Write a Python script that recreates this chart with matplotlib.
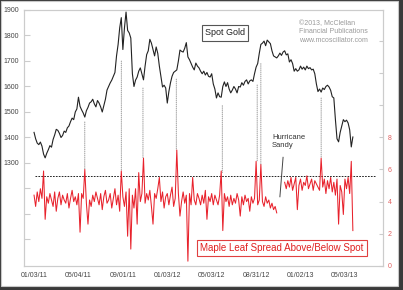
import numpy as np
import matplotlib.pyplot as plt
from matplotlib.patches import Rectangle, ConnectionPatch

plt.rcParams['font.family'] = ['Liberation Sans', 'DejaVu Sans']

# x axis is trading days counted from 01/03/11
tick_days = [0, 84, 168, 252, 336, 420, 504, 588]
tick_labels = ['01/03/11', '05/04/11', '09/01/11', '01/03/12',
               '05/03/12', '08/31/12', '01/02/13', '05/03/13']

# spot gold, one value every 3 trading days
gold_step = 3
gold_price = [
    1420, 1395, 1378, 1372, 1382, 1366, 1335, 1320, 1338, 1352,
    1368, 1362, 1392, 1410, 1432, 1428, 1416, 1400, 1408, 1425,
    1420, 1438, 1445, 1462, 1476, 1470, 1500, 1512, 1558, 1522,
    1508, 1496, 1480, 1505, 1518, 1535, 1540, 1550, 1532, 1520,
    1545, 1535, 1520, 1500, 1525, 1550, 1586, 1600, 1614, 1625,
    1640, 1655, 1720, 1765, 1830, 1870, 1745, 1830, 1892, 1820,
    1810, 1790, 1650, 1600, 1625, 1637, 1660, 1673, 1650, 1626,
    1680, 1725, 1740, 1785, 1770, 1745, 1720, 1755, 1730, 1680,
    1640, 1598, 1605, 1594, 1535, 1580, 1614, 1640, 1655, 1660,
    1665, 1700, 1743, 1738, 1735, 1750, 1772, 1716, 1705, 1690,
    1676, 1665, 1692, 1680, 1673, 1660, 1650, 1660, 1645, 1655,
    1640, 1637, 1650, 1610, 1590, 1555, 1575, 1560, 1558, 1600,
    1618, 1600, 1615, 1590, 1575, 1586, 1600, 1590, 1575, 1600,
    1598, 1615, 1605, 1620, 1626, 1610, 1622, 1626, 1620, 1650,
    1676, 1690, 1730, 1765, 1770, 1778, 1760, 1782, 1775, 1768,
    1740, 1720, 1716, 1712, 1720, 1731, 1722, 1735, 1740, 1724,
    1728, 1696, 1705, 1690, 1660, 1670, 1660, 1665, 1680, 1668,
    1676, 1665, 1680, 1670, 1674, 1665, 1668, 1650, 1610, 1580,
    1590, 1578, 1594, 1588, 1600, 1605, 1598, 1585, 1560, 1555,
    1470, 1395, 1383, 1420, 1445, 1470, 1462, 1468, 1457, 1430, 1363, 1402,
]

# maple leaf spread above/below spot, every 3 trading days (nan = hurricane gap)
spread_step = 3
spread = [
    4.4, 3.7, 4.6, 4.0, 4.8, 4.2, 5.9, 2.9, 4.3, 3.9,
    4.5, 4.1, 3.7, 4.6, 3.4, 4.2, 4.6, 3.8, 4.4, 4.1,
    3.9, 4.5, 3.6, 4.2, 4.7, 4.0, 4.3, 3.8, 4.5, 2.1,
    4.5, 4.2, 6.0, 3.9, 2.6, 4.1, 3.7, 4.4, 4.0, 4.6,
    4.2, 3.8, 4.5, 3.5, 4.3, 4.7, 3.9, 4.1, 4.5, 3.6,
    4.2, 4.8, 3.8, 4.4, 3.4, 5.9, 4.3, 3.7, 4.6, 1.85,
    4.8, 1.05, 4.4, 3.6, 4.8, 2.6, 5.8, 4.0, 4.5, 6.7,
    3.9, 4.5, 4.1, 4.7, 3.7, 2.6, 4.5, 4.2, 4.8, 5.5,
    4.0, 4.6, 3.6, 4.3, 4.5, 3.8, 4.4, 4.9, 3.7, 4.2,
    7.2, 4.5, 3.1, 4.0, 4.6, 3.9, 4.4, 0.3, 4.5, 3.8,
    5.5, 4.1, 3.8, 4.5, 4.2, 3.8, 4.4, 3.9, 4.7, 2.9,
    4.3, 4.0, 4.5, 3.8, 4.4, 4.1, 3.8, 4.4, 5.9, 2.2,
    4.5, 4.0, 4.3, 3.7, 4.4, 3.8, 4.2, 3.9, 4.5, 4.1,
    3.1, 4.3, 3.8, 4.4, 4.0, 4.2, 3.4, 4.3, 3.9, 4.2,
    6.5, 3.8, 4.1, 6.3, 4.0, 3.7, 4.3, 3.9, 4.1, 3.6,
    3.9, 3.5, 3.7, 3.3, np.nan, np.nan, np.nan, np.nan,
    5.2, 4.8, 5.3, 4.9, 5.5, 4.7, 5.1, 5.5, 3.5, 5.0,
    5.4, 4.7, 5.2, 5.0, 5.6, 4.8, 5.1, 5.4, 4.7, 5.3,
    5.1, 4.9, 4.7, 6.7, 4.9, 5.4, 4.5, 5.3, 4.8, 5.5,
    4.6, 5.2, 4.4, 5.4, 2.6, 5.0, 4.6, 3.2, 5.4, 4.8,
    5.5, 4.5, 6.5, 2.2,
]

# dotted links from gold lows down to spread spikes
link_days = [96, 165, 206, 269, 356, 422, 429, 543]
link_gold = [1461, 1700, 1594, 1629, 1525, 1606, 1690, 1555]
link_spread = [6.0, 5.9, 6.7, 7.2, 5.8, 6.5, 6.3, 6.7]
threshold = 5.6

gold_days = np.arange(len(gold_price)) * gold_step
spread_days = np.arange(len(spread)) * spread_step

fig = plt.figure(figsize=(4.03, 2.90), dpi=100)
fig.patch.set_facecolor('#3a3a3a')
fig.patches.append(Rectangle((1/403, 1 - 286/290), 397/403, 285/290,
                             transform=fig.transFigure, facecolor='white',
                             edgecolor='#c8c8c8', lw=0.8, zorder=-5))

ax = fig.add_axes([24/403, 1 - 266/290, 359/403, 256/290])
ax2 = ax.twinx()

ax.plot(gold_days, gold_price, color='#222222', lw=0.8, zorder=3)
ax2.plot(spread_days, spread, color='#e8222c', lw=0.75, zorder=3)
ax2.hlines(threshold, 2, 645, colors='black', linestyles=(0, (2, 1.5)), lw=0.6)

for d, g, s in zip(link_days, link_gold, link_spread):
    con = ConnectionPatch(xyA=(d, g), coordsA=ax.transData,
                          xyB=(d, s), coordsB=ax2.transData,
                          color='#8a8a8a', lw=0.6, linestyle=(0, (1, 1.5)))
    ax2.add_artist(con)

ax.set_xlim(-19, 660)
ax.set_ylim(896, 1900)
ax2.set_ylim(0, 15.9)

ax.set_xticks(tick_days)
ax.set_xticklabels(tick_labels)
ax.set_yticks(range(1000, 2000, 100))
ax.set_yticklabels([str(v) if v >= 1300 else '' for v in range(1000, 2000, 100)])
ax2.set_yticks(range(0, 16, 2))
ax2.set_yticklabels([str(v) if v <= 8 else '' for v in range(0, 16, 2)])

ax.tick_params(axis='x', length=0, pad=4, labelsize=5, labelcolor='#444444')
ax.tick_params(axis='y', direction='in', length=4, color='#cccccc',
               pad=3.5, labelsize=5, labelcolor='#444444')
ax2.tick_params(axis='y', direction='in', length=3, color='#cccccc',
                pad=3.5, labelsize=5, labelcolor='#e06060')
for a in (ax, ax2):
    for sp in a.spines.values():
        sp.set_color('#cccccc')
        sp.set_linewidth(0.8)

ax.text(361, 1810, 'Spot Gold', fontsize=6.5, color='#222222',
        ha='center', va='center',
        bbox=dict(boxstyle='square,pad=0.35', fc='white', ec='#555555', lw=0.8))
ax.text(501, 1862, '\u00a92013, McClellan\nFinancial Publications\nwww.mcoscillator.com',
        fontsize=5, color='#9a9a9a', ha='left', va='top', linespacing=1.35)

ax2.text(450, 7.75, 'Hurricane\nSandy', fontsize=5.5, color='#333333',
         ha='left', va='center', linespacing=1.2)
ax2.plot([471, 465], [6.75, 4.3], color='#444444', lw=0.7)

ax2.text(469, 1.12, 'Maple Leaf Spread Above/Below Spot', fontsize=7,
         color='#e02020', ha='center', va='center',
         bbox=dict(boxstyle='square,pad=0.3', fc='white', ec='#e04040', lw=0.8))

fig.savefig('out.png', dpi=100, facecolor=fig.get_facecolor())
